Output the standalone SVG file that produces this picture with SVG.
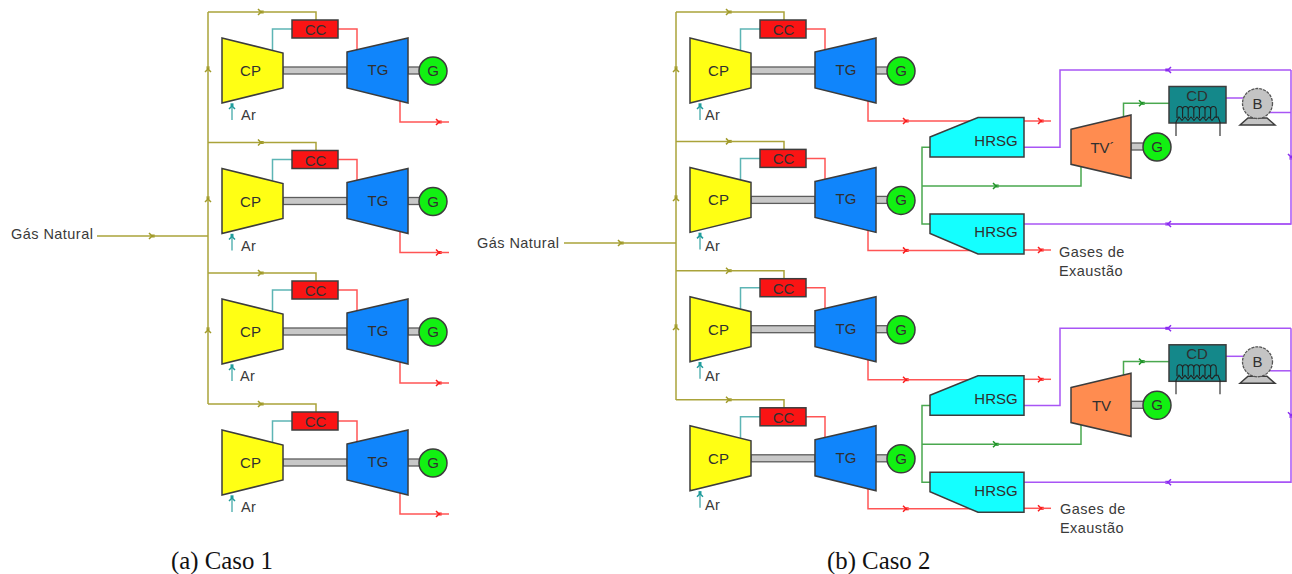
<svg xmlns="http://www.w3.org/2000/svg" width="1292" height="574" viewBox="0 0 1292 574">
<style>
text{font-family:"Liberation Sans",Arial,sans-serif;font-size:15px;fill:#303030;text-anchor:middle}
.l{text-anchor:start;font-size:14.5px;letter-spacing:.45px;fill:#3a3a3a}
.cap{font-family:"Liberation Serif","Times New Roman",serif;font-size:24.8px;letter-spacing:0;fill:#111;text-anchor:start}
path{fill:none;stroke-width:1.5}
.gas{stroke:#aaa33a}.teal{stroke:#5db5b5}.red{stroke:#ff5555}.grn{stroke:#4aa84f}.pur{stroke:#a855f5}
.gas.m{marker-end:url(#mg)}.teal.m{marker-end:url(#mt)}.red.m{marker-end:url(#mr)}.grn.m{marker-end:url(#mn)}.pur.m{marker-end:url(#mp)}
.shaft{fill:#c8c8c8;stroke:#5c5c5c;stroke-width:1.3}
.n{stroke:#3c3c3c;stroke-width:1.5}
.cc{fill:#fa1414}.cp{fill:#ffff14}.tg{fill:#1085fb}.ge{fill:#12f012}.hr{fill:#14ffff}.tv{fill:#ff8c50}.cd{fill:#14888a}.b{fill:#c4c4c4}
.dash{stroke:#555;stroke-width:1.3;stroke-dasharray:3 1}
.coil{stroke:#222;stroke-width:1.1;fill:none}
</style>
<defs>
<marker id="mg" markerUnits="userSpaceOnUse" markerWidth="10" markerHeight="8" refX="5" refY="4" orient="auto"><path d="M1 1L4 4L1 7" stroke="#a09a28"/><rect x="3.5" y="2.5" width="3.2" height="3" fill="#a09a28"/></marker>
<marker id="mt" markerUnits="userSpaceOnUse" markerWidth="10" markerHeight="8" refX="5" refY="4" orient="auto"><path d="M1 1L4 4L1 7" stroke="#1f9c9c"/><rect x="3.5" y="2.5" width="3.2" height="3" fill="#1f9c9c"/></marker>
<marker id="mr" markerUnits="userSpaceOnUse" markerWidth="10" markerHeight="8" refX="5" refY="4" orient="auto"><path d="M1 1L4 4L1 7" stroke="#fa1e1e"/><rect x="3.5" y="2.5" width="3.2" height="3" fill="#fa1e1e"/></marker>
<marker id="mn" markerUnits="userSpaceOnUse" markerWidth="10" markerHeight="8" refX="5" refY="4" orient="auto"><path d="M1 1L4 4L1 7" stroke="#1f9428"/><rect x="3.5" y="2.5" width="3.2" height="3" fill="#1f9428"/></marker>
<marker id="mp" markerUnits="userSpaceOnUse" markerWidth="10" markerHeight="8" refX="5" refY="4" orient="auto"><path d="M1 1L4 4L1 7" stroke="#8a2cf0"/><rect x="3.5" y="2.5" width="3.2" height="3" fill="#8a2cf0"/></marker>
</defs>
<rect width="1292" height="574" fill="#fff"/>
<g id="connectors">
<g id="c-a-trunk">
<path class="gas m" d="M97 236H153"/><path class="gas" d="M153 236H208"/>
<path class="gas m" d="M208 236V198"/><path class="gas m" d="M208 198V68"/><path class="gas" d="M208 68V12"/>
<path class="gas m" d="M208 404V329"/><path class="gas" d="M208 329V236"/>
</g>
<g id="c-a1"><path class="gas m" d="M208 12H262"/><path class="gas" d="M262 12H316V20"/><path class="teal" d="M292 29H272.5V50"/><path class="red" d="M338 29H357V52"/><path class="red m" d="M400 100V122H440"/><path class="red" d="M440 122H449"/><path class="teal m" d="M232 120V105"/><rect class="shaft" x="283" y="67" width="64" height="7"/><rect class="shaft" x="408" y="67" width="13" height="7"/></g>
<g id="c-a2" transform="translate(0 130.5)"><path class="gas m" d="M208 12H262"/><path class="gas" d="M262 12H316V20"/><path class="teal" d="M292 29H272.5V50"/><path class="red" d="M338 29H357V52"/><path class="red m" d="M400 100V122H440"/><path class="red" d="M440 122H449"/><path class="teal m" d="M232 120V105"/><rect class="shaft" x="283" y="67" width="64" height="7"/><rect class="shaft" x="408" y="67" width="13" height="7"/></g>
<g id="c-a3" transform="translate(0 261)"><path class="gas m" d="M208 12H262"/><path class="gas" d="M262 12H316V20"/><path class="teal" d="M292 29H272.5V50"/><path class="red" d="M338 29H357V52"/><path class="red m" d="M400 100V122H440"/><path class="red" d="M440 122H449"/><path class="teal m" d="M232 120V105"/><rect class="shaft" x="283" y="67" width="64" height="7"/><rect class="shaft" x="408" y="67" width="13" height="7"/></g>
<g id="c-a4" transform="translate(0 392)"><path class="gas m" d="M208 12H262"/><path class="gas" d="M262 12H316V20"/><path class="teal" d="M292 29H272.5V50"/><path class="red" d="M338 29H357V52"/><path class="red m" d="M400 100V122H440"/><path class="red" d="M440 122H449"/><path class="teal m" d="M232 120V105"/><rect class="shaft" x="283" y="67" width="64" height="7"/><rect class="shaft" x="408" y="67" width="13" height="7"/></g>
<g id="c-b-trunk">
<path class="gas m" d="M564 243H622"/><path class="gas" d="M622 243H676"/>
<path class="gas m" d="M676 243V197"/><path class="gas m" d="M676 197V68"/><path class="gas" d="M676 68V12"/>
<path class="gas m" d="M676 400V326"/><path class="gas" d="M676 326V243"/>
</g>
<g id="c-b1" transform="translate(468 0)"><path class="gas m" d="M208 12H262"/><path class="gas" d="M262 12H316V20"/><path class="teal" d="M292 29H272.5V50"/><path class="red" d="M338 29H357V52"/><path class="red m" d="M400 100V121H439"/><path class="red" d="M439 121H502"/><path class="teal m" d="M232 120V105"/><rect class="shaft" x="283" y="67" width="64" height="7"/><rect class="shaft" x="408" y="67" width="13" height="7"/></g>
<g id="c-b2" transform="translate(468 129.4)"><path class="gas m" d="M208 12H262"/><path class="gas" d="M262 12H316V20"/><path class="teal" d="M292 29H272.5V50"/><path class="red" d="M338 29H357V52"/><path class="red m" d="M400 100V121H439"/><path class="red" d="M439 121H502"/><path class="teal m" d="M232 120V105"/><rect class="shaft" x="283" y="67" width="64" height="7"/><rect class="shaft" x="408" y="67" width="13" height="7"/></g>
<g id="c-b3" transform="translate(468 258.7)"><path class="gas m" d="M208 12H262"/><path class="gas" d="M262 12H316V20"/><path class="teal" d="M292 29H272.5V50"/><path class="red" d="M338 29H357V52"/><path class="red m" d="M400 100V121H439"/><path class="red" d="M439 121H502"/><path class="teal m" d="M232 120V105"/><rect class="shaft" x="283" y="67" width="64" height="7"/><rect class="shaft" x="408" y="67" width="13" height="7"/></g>
<g id="c-b4" transform="translate(468 387.8)"><path class="gas m" d="M208 12H262"/><path class="gas" d="M262 12H316V20"/><path class="teal" d="M292 29H272.5V50"/><path class="red" d="M338 29H357V52"/><path class="red m" d="M400 100V121H439"/><path class="red" d="M439 121H502"/><path class="teal m" d="M232 120V105"/><rect class="shaft" x="283" y="67" width="64" height="7"/><rect class="shaft" x="408" y="67" width="13" height="7"/></g>
<g id="c-s1">
<path class="red m" d="M1024 121H1042"/><path class="red" d="M1042 121H1051"/><path class="red m" d="M1024 250H1042"/><path class="red" d="M1042 250H1051"/>
<path class="grn" d="M930 147.3H922V224H930"/><path class="grn m" d="M922 186H997"/><path class="grn" d="M997 186H1081V166"/>
<path class="grn m" d="M1123.5 118V103.3H1143"/><path class="grn" d="M1143 103.3H1169"/>
<path class="pur" d="M1024 147.3H1060V70H1167"/><path class="pur m" d="M1291 70H1167"/><path class="pur m" d="M1291 70V158"/><path class="pur" d="M1291 158V224H1167"/><path class="pur m" d="M1291 224H1167"/><path class="pur" d="M1167 224H1024"/>
<path class="pur" d="M1226 98H1243"/><path class="pur" d="M1270 112.5H1291"/>
<rect class="shaft" x="1131" y="143" width="13" height="7"/>
</g>
<g id="c-s2" transform="translate(0 258.3)">
<path class="red m" d="M1024 121H1042"/><path class="red" d="M1042 121H1051"/><path class="red m" d="M1024 250H1042"/><path class="red" d="M1042 250H1051"/>
<path class="grn" d="M930 147.3H922V224H930"/><path class="grn m" d="M922 186H997"/><path class="grn" d="M997 186H1081V166"/>
<path class="grn m" d="M1123.5 118V103.3H1143"/><path class="grn" d="M1143 103.3H1169"/>
<path class="pur" d="M1024 147.3H1060V70H1167"/><path class="pur m" d="M1291 70H1167"/><path class="pur m" d="M1291 70V158"/><path class="pur" d="M1291 158V224H1167"/><path class="pur m" d="M1291 224H1167"/><path class="pur" d="M1167 224H1024"/>
<path class="pur" d="M1226 98H1243"/><path class="pur" d="M1270 112.5H1291"/>
<rect class="shaft" x="1131" y="143" width="13" height="7"/>
</g>
</g>
<g id="a1">
<g id="a1-cc"><rect class="n cc" x="292" y="20" width="46" height="18"/><text x="315.5" y="35">CC</text></g>
<g id="a1-cp"><polygon class="n cp" points="222,38 283,53 283,88 222,103"/><text x="250.5" y="76">CP</text></g>
<g id="a1-tg"><polygon class="n tg" points="347,52 408,38 408,103 347,88"/><text x="378" y="75">TG</text></g>
<g id="a1-g"><circle class="n ge" cx="433" cy="71" r="14"/><text x="433" y="76">G</text></g>
<text class="l" x="241" y="120">Ar</text>
</g>
<g id="a2" transform="translate(0 130.5)">
<g id="a2-cc"><rect class="n cc" x="292" y="20" width="46" height="18"/><text x="315.5" y="35">CC</text></g>
<g id="a2-cp"><polygon class="n cp" points="222,38 283,53 283,88 222,103"/><text x="250.5" y="76">CP</text></g>
<g id="a2-tg"><polygon class="n tg" points="347,52 408,38 408,103 347,88"/><text x="378" y="75">TG</text></g>
<g id="a2-g"><circle class="n ge" cx="433" cy="71" r="14"/><text x="433" y="76">G</text></g>
<text class="l" x="241" y="120">Ar</text>
</g>
<g id="a3" transform="translate(0 261)">
<g id="a3-cc"><rect class="n cc" x="292" y="20" width="46" height="18"/><text x="315.5" y="35">CC</text></g>
<g id="a3-cp"><polygon class="n cp" points="222,38 283,53 283,88 222,103"/><text x="250.5" y="76">CP</text></g>
<g id="a3-tg"><polygon class="n tg" points="347,52 408,38 408,103 347,88"/><text x="378" y="75">TG</text></g>
<g id="a3-g"><circle class="n ge" cx="433" cy="71" r="14"/><text x="433" y="76">G</text></g>
<text class="l" x="240" y="120">Ar</text>
</g>
<g id="a4" transform="translate(0 392)">
<g id="a4-cc"><rect class="n cc" x="292" y="20" width="46" height="18"/><text x="315.5" y="35">CC</text></g>
<g id="a4-cp"><polygon class="n cp" points="222,38 283,53 283,88 222,103"/><text x="250.5" y="76">CP</text></g>
<g id="a4-tg"><polygon class="n tg" points="347,52 408,38 408,103 347,88"/><text x="378" y="75">TG</text></g>
<g id="a4-g"><circle class="n ge" cx="433" cy="71" r="14"/><text x="433" y="76">G</text></g>
<text class="l" x="241" y="120">Ar</text>
</g>
<g id="b1" transform="translate(468 0)">
<g id="b1-cc"><rect class="n cc" x="292" y="20" width="46" height="18"/><text x="315.5" y="35">CC</text></g>
<g id="b1-cp"><polygon class="n cp" points="222,38 283,53 283,88 222,103"/><text x="250.5" y="76">CP</text></g>
<g id="b1-tg"><polygon class="n tg" points="347,52 408,38 408,103 347,88"/><text x="378" y="75">TG</text></g>
<g id="b1-g"><circle class="n ge" cx="433" cy="71" r="14"/><text x="433" y="76">G</text></g>
<text class="l" x="237" y="120">Ar</text>
</g>
<g id="b2" transform="translate(468 129.4)">
<g id="b2-cc"><rect class="n cc" x="292" y="20" width="46" height="18"/><text x="315.5" y="35">CC</text></g>
<g id="b2-cp"><polygon class="n cp" points="222,38 283,53 283,88 222,103"/><text x="250.5" y="76">CP</text></g>
<g id="b2-tg"><polygon class="n tg" points="347,52 408,38 408,103 347,88"/><text x="378" y="75">TG</text></g>
<g id="b2-g"><circle class="n ge" cx="433" cy="71" r="14"/><text x="433" y="76">G</text></g>
<text class="l" x="237" y="122">Ar</text>
</g>
<g id="b3" transform="translate(468 258.7)">
<g id="b3-cc"><rect class="n cc" x="292" y="20" width="46" height="18"/><text x="315.5" y="35">CC</text></g>
<g id="b3-cp"><polygon class="n cp" points="222,38 283,53 283,88 222,103"/><text x="250.5" y="76">CP</text></g>
<g id="b3-tg"><polygon class="n tg" points="347,52 408,38 408,103 347,88"/><text x="378" y="75">TG</text></g>
<g id="b3-g"><circle class="n ge" cx="433" cy="71" r="14"/><text x="433" y="76">G</text></g>
<text class="l" x="237" y="122.5">Ar</text>
</g>
<g id="b4" transform="translate(468 387.8)">
<g id="b4-cc"><rect class="n cc" x="292" y="20" width="46" height="18"/><text x="315.5" y="35">CC</text></g>
<g id="b4-cp"><polygon class="n cp" points="222,38 283,53 283,88 222,103"/><text x="250.5" y="76">CP</text></g>
<g id="b4-tg"><polygon class="n tg" points="347,52 408,38 408,103 347,88"/><text x="378" y="75">TG</text></g>
<g id="b4-g"><circle class="n ge" cx="433" cy="71" r="14"/><text x="433" y="76">G</text></g>
<text class="l" x="237" y="122">Ar</text>
</g>
<g id="s1">
<g id="s1-hrsg1"><polygon class="n hr" points="930,137 978,117.5 1024,117.5 1024,157 930,157"/><text x="996" y="145.7">HRSG</text></g>
<g id="s1-hrsg2"><polygon class="n hr" points="930,214 1024,214 1024,254 978,254 930,233.5"/><text x="996" y="237.3">HRSG</text></g>
<g id="s1-tv"><polygon class="n tv" points="1071,129.3 1131,115 1131,178.3 1071,164.3"/><text x="1102.5" y="152.7">TV´</text></g>
<g id="s1-g"><circle class="n ge" cx="1157" cy="147" r="14"/><text x="1157" y="152">G</text></g>
<g id="s1-cd"><rect class="n cd" x="1169" y="86.5" width="57" height="36.5"/><text x="1197" y="100.5">CD</text>
<path class="coil" d="M1177 118V110a2.8 3.5 0 0 1 5.6 0V118M1182.6 118V110a2.8 3.5 0 0 1 5.6 0V118M1188.2 118V110a2.8 3.5 0 0 1 5.6 0V118M1193.8 118V110a2.8 3.5 0 0 1 5.6 0V118M1199.4 118V110a2.8 3.5 0 0 1 5.6 0V118M1205 118V110a2.8 3.5 0 0 1 5.6 0V118M1210.6 118V110a2.8 3.5 0 0 1 5.6 0V118M1176 122L1179 117L1182 120.5L1185 117L1188 120.5L1191 117L1194 120.5L1197 117L1200 120.5L1203 117L1206 120.5L1209 117L1212 120.5L1215 117L1218 117L1220 122M1176 122V136M1220 122V136"/></g>
<g id="s1-b"><polygon class="n b" points="1240,125 1248,118 1267,118 1275,125" stroke-width="1"/><circle class="b dash" cx="1257.5" cy="103.5" r="15"/><text x="1257.5" y="109">B</text></g>
<g id="s1-l"><text class="l" x="1059" y="256.5">Gases de</text><text class="l" x="1059" y="276">Exaustão</text></g>
</g>
<g id="s2" transform="translate(0 258.3)">
<g id="s2-hrsg1"><polygon class="n hr" points="930,137 978,117.5 1024,117.5 1024,157 930,157"/><text x="996" y="145.7">HRSG</text></g>
<g id="s2-hrsg2"><polygon class="n hr" points="930,214 1024,214 1024,254 978,254 930,233.5"/><text x="996" y="237.3">HRSG</text></g>
<g id="s2-tv"><polygon class="n tv" points="1071,129.3 1131,115 1131,178.3 1071,164.3"/><text x="1101.5" y="152.4">TV</text></g>
<g id="s2-g"><circle class="n ge" cx="1157" cy="147" r="14"/><text x="1157" y="152">G</text></g>
<g id="s2-cd"><rect class="n cd" x="1169" y="86.5" width="57" height="36.5"/><text x="1197" y="100.5">CD</text>
<path class="coil" d="M1177 118V110a2.8 3.5 0 0 1 5.6 0V118M1182.6 118V110a2.8 3.5 0 0 1 5.6 0V118M1188.2 118V110a2.8 3.5 0 0 1 5.6 0V118M1193.8 118V110a2.8 3.5 0 0 1 5.6 0V118M1199.4 118V110a2.8 3.5 0 0 1 5.6 0V118M1205 118V110a2.8 3.5 0 0 1 5.6 0V118M1210.6 118V110a2.8 3.5 0 0 1 5.6 0V118M1176 122L1179 117L1182 120.5L1185 117L1188 120.5L1191 117L1194 120.5L1197 117L1200 120.5L1203 117L1206 120.5L1209 117L1212 120.5L1215 117L1218 117L1220 122M1176 122V136M1220 122V136"/></g>
<g id="s2-b"><polygon class="n b" points="1240,125 1248,118 1267,118 1275,125" stroke-width="1"/><circle class="b dash" cx="1257.5" cy="103.5" r="15"/><text x="1257.5" y="109">B</text></g>
<g id="s2-l"><text class="l" x="1060" y="255.5">Gases de</text><text class="l" x="1060" y="274.5">Exaustão</text></g>
</g>
<g id="labels">
<text class="l" x="11" y="239">Gás Natural</text>
<text class="l" x="477" y="248">Gás Natural</text>
<text class="cap" x="171" y="569">(a) Caso 1</text>
<text class="cap" x="827" y="569">(b) Caso 2</text>
</g>
</svg>
